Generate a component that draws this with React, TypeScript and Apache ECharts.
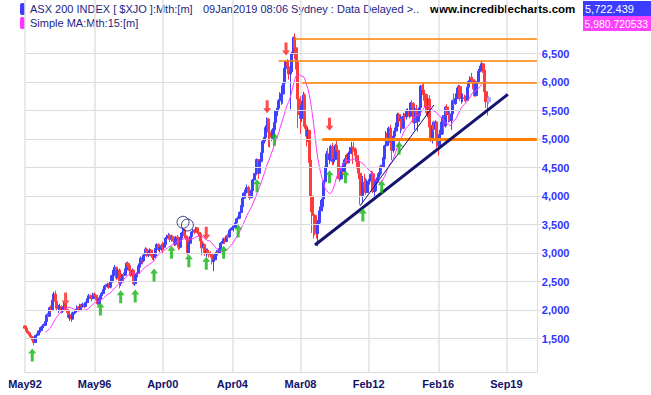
import React, { useEffect, useRef } from 'react';
import * as echarts from 'echarts';

// ---------- data (monthly, May 1992 .. Jan 2019) ----------
const FIRST_OPEN = 1720;
const CLOSE = [
  1680, 1630, 1600, 1560, 1530, 1470, 1430, 1550,
  1560, 1610, 1640, 1690, 1720, 1730, 1800, 1910, 1890, 2040, 1990, 2170,
  2280, 2150, 2030, 2040, 2060, 1980, 2030, 2100, 2010, 1990, 1870, 1910,
  1840, 1950, 1960, 2000, 2050, 2000, 2090, 2060, 2100, 2060, 2130, 2200,
  2250, 2230, 2200, 2280, 2260, 2200, 2110, 2190, 2250, 2290, 2360, 2420,
  2410, 2450, 2400, 2490, 2600, 2700, 2750, 2560, 2700, 2480, 2490, 2620,
  2610, 2700, 2820, 2780, 2690, 2610, 2700, 2460, 2580, 2640, 2750, 2810,
  2910, 2860, 2960, 3070, 2960, 3010, 3050, 2990, 2920, 2950, 3080, 3150,
  3060, 3090, 3130, 3100, 3150, 3260, 3280, 3310, 3240, 3290, 3230, 3150,
  3280, 3260, 3100, 3260, 3350, 3410, 3300, 3270, 3000, 3170, 3290, 3370,
  3400, 3370, 3440, 3360, 3340, 3210, 3090, 3150, 2990, 3050, 3010, 2980,
  2970, 2850, 2880, 2960, 3010, 3000, 3080, 3170, 3180, 3250, 3200, 3300,
  3280, 3400, 3420, 3450, 3450, 3530, 3600, 3610, 3710, 3810, 3960, 4050,
  4110, 4150, 4060, 3970, 4090, 4280, 4370, 4400, 4640, 4400, 4610, 4760,
  4960, 5030, 5200, 5350, 5120, 5050, 5030, 5160, 5290, 5490, 5540, 5670,
  5790, 5790, 5980, 6240, 6360, 6270, 6140, 6180, 6500, 6780, 6600, 6340,
  5700, 5670, 5360, 5590, 5770, 5220, 5050, 5150, 4630, 4000, 3670, 3660,
  3400, 3340, 3530, 3740, 3810, 3950, 4250, 4500, 4740, 4640, 4720, 4870,
  4600, 4640, 4890, 4800, 4350, 4300, 4490, 4430, 4580, 4660, 4580, 4750,
  4750, 4850, 4840, 4820, 4710, 4610, 4400, 4300, 4010, 4240, 4130, 4060,
  4250, 4260, 4340, 4390, 4080, 4090, 4260, 4320, 4390, 4520, 4510, 4650,
  4880, 5100, 4970, 5190, 4930, 4800, 5050, 5140, 5220, 5430, 5320, 5350,
  5190, 5400, 5390, 5490, 5490, 5400, 5630, 5620, 5290, 5530, 5310, 5410,
  5550, 5930, 5860, 5790, 5780, 5460, 5700, 5210, 5020, 5240, 5170, 5300,
  5010, 4880, 5080, 5250, 5380, 5230, 5560, 5430, 5440, 5320, 5440, 5670,
  5620, 5710, 5860, 5920, 5720, 5720, 5720, 5710, 5680, 5910, 6010, 6070,
  6040, 6020, 5760, 5980, 6010, 6190, 6280, 6320, 6210, 5830, 5670, 5650,
  5722,
];
const HIGH = [
  1730, 1690, 1650, 1620, 1580, 1540, 1480, 1560,
  1590, 1640, 1670, 1710, 1750, 1760, 1820, 1930, 1950, 2060, 2080, 2190,
  2320, 2340, 2180, 2090, 2110, 2080, 2060, 2140, 2110, 2050, 2000, 1930,
  1920, 1970, 2000, 2020, 2080, 2070, 2110, 2110, 2130, 2120, 2150, 2220,
  2280, 2270, 2250, 2300, 2310, 2270, 2210, 2220, 2270, 2320, 2380, 2440,
  2460, 2480, 2470, 2510, 2620, 2720, 2790, 2760, 2720, 2730, 2550, 2640,
  2660, 2730, 2840, 2850, 2800, 2700, 2730, 2710, 2620, 2660, 2780, 2830,
  2940, 2930, 2990, 3100, 3090, 3040, 3080, 3070, 3010, 2980, 3100, 3170,
  3170, 3120, 3160, 3200, 3180, 3280, 3320, 3350, 3330, 3320, 3310, 3250,
  3300, 3320, 3280, 3280, 3370, 3440, 3420, 3330, 3290, 3200, 3310, 3390,
  3420, 3420, 3460, 3450, 3390, 3360, 3230, 3180, 3160, 3080, 3080, 3040,
  3030, 2980, 2920, 2990, 3050, 3060, 3100, 3190, 3210, 3270, 3270, 3310,
  3340, 3410, 3440, 3480, 3480, 3550, 3610, 3640, 3730, 3840, 3980, 4060,
  4140, 4200, 4180, 4090, 4110, 4300, 4400, 4450, 4660, 4650, 4640, 4780,
  4980, 5060, 5240, 5380, 5370, 5160, 5150, 5190, 5320, 5510, 5580, 5700,
  5820, 5940, 6000, 6260, 6380, 6400, 6380, 6230, 6530, 6800, 6850, 6650,
  6410, 5800, 5750, 5650, 5830, 5800, 5250, 5200, 5170, 4650, 4100, 3770,
  3680, 3520, 3580, 3770, 3930, 4000, 4280, 4520, 4790, 4840, 4760, 4900,
  4930, 4660, 4910, 4970, 4820, 4560, 4520, 4540, 4640, 4720, 4740, 4780,
  4860, 4950, 4870, 4950, 4850, 4720, 4660, 4420, 4350, 4350, 4390, 4320,
  4290, 4300, 4380, 4440, 4430, 4150, 4290, 4380, 4420, 4550, 4550, 4680,
  4900, 5140, 5150, 5220, 5250, 4970, 5100, 5200, 5290, 5460, 5460, 5400,
  5400, 5460, 5450, 5530, 5540, 5520, 5650, 5680, 5650, 5570, 5600, 5450,
  5580, 5950, 5960, 6000, 5830, 5710, 5720, 5770, 5300, 5300, 5320, 5330,
  5300, 5050, 5160, 5300, 5420, 5420, 5580, 5610, 5510, 5510, 5460, 5690,
  5800, 5800, 5900, 5950, 5950, 5800, 5800, 5780, 5760, 5930, 6030, 6100,
  6160, 6090, 6040, 6000, 6120, 6230, 6290, 6370, 6330, 6210, 5900, 5700,
  5760,
];
const LOW = [
  1670, 1610, 1580, 1540, 1500, 1440, 1380, 1420,
  1520, 1550, 1590, 1620, 1670, 1690, 1720, 1790, 1860, 1880, 1960, 1990,
  2150, 2120, 1990, 1950, 1990, 1940, 1950, 2020, 1990, 1950, 1850, 1810,
  1790, 1830, 1920, 1940, 1990, 1970, 1990, 2030, 2040, 2030, 2050, 2120,
  2190, 2190, 2150, 2190, 2230, 2170, 2080, 2100, 2170, 2230, 2280, 2340,
  2380, 2390, 2370, 2380, 2480, 2590, 2680, 2530, 2560, 2380, 2420, 2460,
  2520, 2600, 2690, 2750, 2660, 2580, 2600, 2440, 2420, 2480, 2630, 2680,
  2790, 2820, 2840, 2950, 2930, 2930, 2980, 2940, 2880, 2870, 2940, 3060,
  3030, 3010, 3040, 2980, 3060, 3140, 3220, 3250, 3190, 3200, 3200, 3120,
  3130, 3220, 3050, 3070, 3250, 3320, 3260, 3230, 2960, 3000, 3160, 3270,
  3340, 3330, 3360, 3330, 3290, 3180, 2960, 3050, 2950, 2930, 2970, 2920,
  2920, 2800, 2680, 2860, 2930, 2970, 2990, 3070, 3130, 3170, 3160, 3200,
  3250, 3270, 3350, 3400, 3380, 3440, 3520, 3550, 3600, 3700, 3800, 3950,
  4020, 4080, 4000, 3930, 3960, 4080, 4260, 4330, 4390, 4300, 4390, 4590,
  4750, 4920, 5010, 5180, 4860, 4850, 4960, 5000, 5120, 5270, 5400, 5530,
  5620, 5600, 5620, 5980, 6200, 6200, 6040, 5520, 6140, 6480, 6400, 6220,
  5190, 5420, 5090, 5300, 5540, 5180, 4870, 4950, 4580, 3720, 3350, 3250,
  3310, 3250, 3120, 3500, 3670, 3730, 3830, 4170, 4430, 4580, 4560, 4610,
  4540, 4550, 4640, 4780, 4300, 4250, 4280, 4370, 4420, 4570, 4550, 4580,
  4690, 4730, 4560, 4780, 4600, 4480, 4400, 3850, 3990, 3870, 4070, 4020,
  4060, 4190, 4200, 4250, 4050, 3970, 4070, 4220, 4270, 4360, 4400, 4500,
  4660, 4860, 4940, 4880, 4900, 4630, 4760, 4980, 5120, 5210, 5280, 5100,
  5150, 5180, 5310, 5340, 5400, 5360, 5390, 5550, 5270, 5160, 5300, 5130,
  5310, 5550, 5770, 5670, 5560, 5420, 5380, 5050, 4950, 4920, 5110, 5000,
  4850, 4710, 4870, 4990, 5210, 5080, 5200, 5400, 5290, 5300, 5160, 5420,
  5600, 5600, 5690, 5800, 5670, 5620, 5650, 5660, 5640, 5670, 5900, 5990,
  6020, 5870, 5740, 5750, 5970, 5980, 6170, 6200, 6160, 5650, 5540, 5410,
  5610,
];

const MONTHS = ['Jan', 'Feb', 'Mar', 'Apr', 'May', 'Jun', 'Jul', 'Aug', 'Sep', 'Oct', 'Nov', 'Dec'];
const START_MONTH = 4; // May
const START_YEAR = 1992;
const SLOT_COUNT = 354; // months on the time axis, including empty future space
const MA_PERIOD = 15;

const TICK_INDEX = [0, 48, 95, 143, 190, 237, 285, 332];
const TICK_LABELS = ['May92', 'May96', 'Apr00', 'Apr04', 'Mar08', 'Feb12', 'Feb16', 'Sep19'];
const Y_TICKS = [1500, 2000, 2500, 3000, 3500, 4000, 4500, 5000, 5500, 6000, 6500];
const Y_MIN = 912.3;
const Y_MAX = 7438.6;

// annotations: [month index, level]
const UP_ARROWS = [
  [5, 1211], [52, 2018], [66, 2233], [76, 2246], [89, 2614], [101, 3012], [113, 2865],
  [125, 2819], [137, 3012], [147, 3386], [160, 4181], [172, 4995], [210, 4339],
  [221, 4339], [233, 3667], [246, 4163], [258, 4837],
];
const DOWN_ARROWS = [[28, 2193], [125, 3346], [167, 5567], [180, 6579], [210, 5258]];
const CIRCLES = [[109, 3539], [112, 3491]];
const RESISTANCE = [[186, 6767], [175, 6377], [191, 5995]];
const SUPPORT = [205, 4995];
const TRENDLINE = [[200, 3140], [333, 5784]];
const THIN_TREND = [[231, 3825], [282, 5596]];

const LAST_PRICE = '5,722.439';
const MA_LAST = '5,980.720533';

const UP_PATH = 'path://M4,0L8,5L5.5,5L5.5,13L2.5,13L2.5,5L0,5Z';
const DOWN_PATH = 'path://M2.5,0L5.5,0L5.5,8L8,8L4,13L0,8L2.5,8Z';

const FONT = 'Arial, "Liberation Sans", sans-serif';

export default function App() {
  const ref = useRef<HTMLDivElement>(null);

  useEffect(() => {
    if (!ref.current) return;
    const chart = echarts.init(ref.current, null, { renderer: 'svg' });

    const categories: string[] = [];
    for (let i = 0; i < SLOT_COUNT; i++) {
      const m = (START_MONTH + i) % 12;
      const y = START_YEAR + Math.floor((START_MONTH + i) / 12);
      categories.push(MONTHS[m] + String(y).slice(2));
    }

    const lastIdx = CLOSE.length - 1;
    const candles = CLOSE.map((c, i) => {
      const o = i === 0 ? FIRST_OPEN : CLOSE[i - 1];
      const h = Math.max(HIGH[i], o, c);
      const l = Math.min(LOW[i], o, c);
      const item: any = { value: [o, c, l, h] };
      if (i === lastIdx) {
        item.itemStyle = { color: '#a6a6ff', color0: '#a6a6ff', borderColor: '#a6a6ff', borderColor0: '#a6a6ff' };
      }
      return item;
    });

    const ma = CLOSE.map((_, i) => {
      if (i < MA_PERIOD - 1) return null;
      let s = 0;
      for (let k = i - MA_PERIOD + 1; k <= i; k++) s += CLOSE[k];
      return +(s / MA_PERIOD).toFixed(2);
    });

    const isTick = (i: number) => TICK_INDEX.includes(i);
    const end = SLOT_COUNT - 1;

    const option: any = {
      animation: false,
      backgroundColor: '#ffffff',
      grid: { left: 25, right: 114.15, top: 0, bottom: 23, containLabel: false },
      xAxis: {
        type: 'category',
        data: categories,
        boundaryGap: false,
        axisLine: { show: true, lineStyle: { color: '#dcdcdc', width: 1 } },
        axisTick: { show: false },
        axisLabel: {
          interval: (i: number) => isTick(i),
          formatter: (_v: string, i: number) => TICK_LABELS[TICK_INDEX.indexOf(i)] ?? '',
          color: '#12126a',
          fontWeight: 'bold',
          fontSize: 11,
          fontFamily: FONT,
          margin: 6,
        },
        splitLine: { show: true, interval: (i: number) => isTick(i), lineStyle: { color: '#e2e2e2', width: 1.5 } },
      },
      yAxis: {
        type: 'value',
        position: 'right',
        min: Y_MIN,
        max: Y_MAX,
        axisLine: { show: true, lineStyle: { color: '#dcdcdc', width: 1 } },
        axisTick: { show: true, customValues: Y_TICKS, length: 4, lineStyle: { color: '#dcdcdc' } },
        axisLabel: {
          customValues: Y_TICKS,
          formatter: (v: number) => v.toLocaleString('en-US'),
          color: '#3333ff',
          fontWeight: 'bold',
          fontSize: 11,
          fontFamily: FONT,
          margin: 5,
        },
        splitLine: { show: false },
      },
      series: [
        {
          name: 'grid',
          type: 'line',
          data: [],
          z: 1,
          silent: true,
          markLine: {
            silent: true,
            symbol: ['none', 'none'],
            label: { show: false },
            lineStyle: { color: '#dcdcdc', width: 1, type: 'solid' },
            data: Y_TICKS.map((v) => ({ yAxis: v })),
          },
        },
        {
          name: 'ASX 200',
          type: 'candlestick',
          z: 3,
          barWidth: 2.6,
          data: candles,
          itemStyle: {
            color: '#4040ff',
            color0: '#ff3c3c',
            borderColor: '#4040ff',
            borderColor0: '#ff3c3c',
            borderWidth: 1,
          },
        },
        {
          name: 'MA',
          type: 'line',
          z: 4,
          data: ma,
          symbol: 'none',
          lineStyle: { color: '#ff33ff', width: 1 },
        },
        {
          name: 'lines',
          type: 'line',
          data: [],
          z: 5,
          silent: true,
          markLine: {
            silent: true,
            symbol: ['none', 'none'],
            label: { show: false },
            data: [
              ...RESISTANCE.map(([i, v]) => [
                { coord: [i, v], lineStyle: { color: '#ff8000', width: 1.5, type: 'solid' } },
                { coord: [end, v] },
              ]),
              [
                { coord: [SUPPORT[0], SUPPORT[1]], lineStyle: { color: '#ff8000', width: 3, type: 'solid' } },
                { coord: [end, SUPPORT[1]] },
              ],
              [
                { coord: TRENDLINE[0], lineStyle: { color: '#14146e', width: 3, type: 'solid' } },
                { coord: TRENDLINE[1] },
              ],
              [
                { coord: THIN_TREND[0], lineStyle: { color: '#14146e', width: 1, type: 'solid' } },
                { coord: THIN_TREND[1] },
              ],
            ],
          },
        },
        {
          name: 'up',
          type: 'scatter',
          z: 6,
          symbol: UP_PATH,
          symbolSize: [8, 13],
          itemStyle: { color: '#10b410' },
          data: UP_ARROWS,
        },
        {
          name: 'down',
          type: 'scatter',
          z: 6,
          symbol: DOWN_PATH,
          symbolSize: [8, 13],
          itemStyle: { color: '#ff2020' },
          data: DOWN_ARROWS,
        },
        {
          name: 'circles',
          type: 'scatter',
          z: 6,
          symbol: 'circle',
          symbolSize: 12,
          itemStyle: { color: 'rgba(0,0,0,0)', borderColor: '#14146e', borderWidth: 1 },
          data: CIRCLES,
        },
      ],
      graphic: [
        { type: 'rect', shape: { x: 20, y: 3, width: 5, height: 12, r: 2 }, style: { fill: '#3c3cff' } },
        {
          type: 'text', x: 30, y: 9,
          style: { text: 'ASX 200 INDEX [ $XJO ]:Mth:[m]', fill: '#1e1e82', font: '11px ' + FONT, verticalAlign: 'middle' },
        },
        {
          type: 'text', x: 203, y: 9,
          style: { text: '09Jan2019 08:06 Sydney : Data Delayed >..', fill: '#1e1e82', font: '11px ' + FONT, verticalAlign: 'middle' },
        },
        {
          type: 'text', x: 430, y: 9,
          style: { text: 'www.incrediblecharts.com', fill: '#000000', font: 'bold 11.5px ' + FONT, verticalAlign: 'middle' },
        },
        { type: 'rect', shape: { x: 583, y: 1, width: 68, height: 15 }, style: { fill: '#3c3cff' } },
        {
          type: 'text', x: 585, y: 9,
          style: { text: LAST_PRICE, fill: '#ffffff', font: '11px ' + FONT, verticalAlign: 'middle' },
        },
        { type: 'rect', shape: { x: 20, y: 17, width: 5, height: 12, r: 2 }, style: { fill: '#ff33ff' } },
        {
          type: 'text', x: 30, y: 23,
          style: { text: 'Simple MA:Mth:15:[m]', fill: '#1e1e82', font: '11px ' + FONT, verticalAlign: 'middle' },
        },
        { type: 'rect', shape: { x: 583, y: 16, width: 68, height: 15 }, style: { fill: '#ff40ff' } },
        {
          type: 'text', x: 584.5, y: 24,
          style: { text: MA_LAST, fill: '#ffffff', font: '10.4px ' + FONT, verticalAlign: 'middle' },
        },
      ],
    };

    chart.setOption(option);
    return () => chart.dispose();
  }, []);

  return (
    <div
      ref={ref}
      style={{ position: 'fixed', left: 0, top: 0, width: 651, height: 395, background: '#fff' }}
    />
  );
}
